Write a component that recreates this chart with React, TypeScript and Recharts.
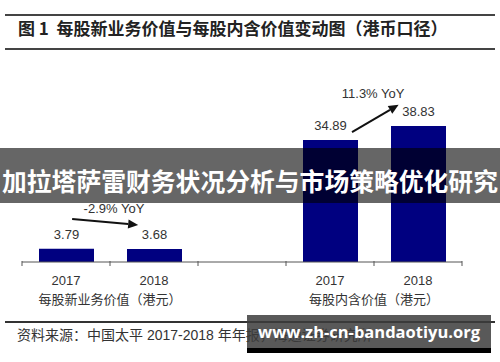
import { Bar, BarChart, LabelList, ReferenceDot, ReferenceLine, XAxis, YAxis } from 'recharts'

const categories = ['2017', '2018', '', '2017', '2018']
const values = [3.79, 3.68, null, 34.89, 38.83]
const groupLabels = ['每股新业务价值（港元）', '每股内含价值（港元）']
const groupTicks = [1, 4]
const yoyLabels = ['-2.9% YoY', '11.3% YoY']
// arrow ends and label spots, in data units (x: slot, y: value)
const arrowFrom = [[0.57, 12.3], [3.75, 37.1]]
const arrowTo = [[1.32, 10.6], [4.28, 44.9]]
const yoyAt = [[1.045, 15.4], [3.99, 48.2]]

const data = categories.map((label, i) => ({ x: i + 0.5, label, value: values[i] }))
const tickValues = categories.flatMap((_, i) => [i, i + 0.5]).concat(categories.length)

const numFont = '"Liberation Sans", Arial, "Noto Sans CJK SC", sans-serif'
const cjkFont = '"Noto Sans CJK SC", "Liberation Sans", sans-serif'

function AxisTick(props: any) {
    const { x, y, payload } = props
    const v = payload.value as number
    if (Number.isInteger(v)) {
        const g = groupTicks.indexOf(v)
        return (
            <g>
                <line x1={x} x2={x} y1={y - 1} y2={y + 4} stroke="#555" strokeWidth={1} />
                {g >= 0 && (
                    <text x={x} y={y + 42} textAnchor="middle" fontSize={13} fill="#333" fontFamily={cjkFont}>
                        {groupLabels[g]}
                    </text>
                )}
            </g>
        )
    }
    const label = categories[Math.floor(v)]
    return (
        <text x={x} y={y + 23} textAnchor="middle" fontSize={13} fill="#333" fontFamily={numFont}>
            {label}
        </text>
    )
}

function Arrow(props: any) {
    const { x1, y1, x2, y2 } = props
    const dx = x2 - x1
    const dy = y2 - y1
    const len = Math.sqrt(dx * dx + dy * dy)
    const ux = dx / len
    const uy = dy / len
    const head = 10
    const half = 4.5
    const bx = x2 - ux * head
    const by = y2 - uy * head
    return (
        <g>
            <line x1={x1} y1={y1} x2={bx} y2={by} stroke="#111" strokeWidth={2} />
            <polygon
                points={`${x2},${y2} ${bx - uy * half},${by + ux * half} ${bx + uy * half},${by - ux * half}`}
                fill="#111"
            />
        </g>
    )
}

export default function App() {
    return (
        <div style={{ position: 'absolute', left: 0, top: 0, width: 500, height: 362, background: '#fff', overflow: 'hidden' }}>
            <div style={{ position: 'absolute', left: 5, top: 14, width: 490, height: 2, background: '#444' }} />
            <div
                style={{
                    position: 'absolute', left: 18, top: 18, height: 20, lineHeight: '20px',
                    fontSize: 17, fontWeight: 700, color: '#222', fontFamily: cjkFont, whiteSpace: 'nowrap',
                }}
            >
                图 1&nbsp; 每股新业务价值与每股内含价值变动图（港币口径）
            </div>
            <div style={{ position: 'absolute', left: 5, top: 48, width: 490, height: 2, background: '#444' }} />

            <div style={{ position: 'absolute', left: 0, top: 0 }}>
                <BarChart width={500} height={362} data={data} margin={{ top: 122, right: 38, bottom: 70, left: 22 }}>
                    <XAxis
                        dataKey="x"
                        type="number"
                        domain={[0, categories.length]}
                        ticks={tickValues}
                        interval={0}
                        tickSize={0}
                        tickMargin={0}
                        tickLine={false}
                        axisLine={{ stroke: '#555', strokeWidth: 1 }}
                        tick={<AxisTick />}
                        height={30}
                    />
                    <YAxis hide domain={[0, 40]} />
                    <Bar dataKey="value" fill="#000080" barSize={55} isAnimationActive={false}>
                        <LabelList dataKey="value" position="top" offset={10} fontSize={13} fill="#333" fontFamily={numFont} />
                    </Bar>
                    {yoyLabels.map((_, i) => (
                        <ReferenceLine
                            key={`arrow-${i}`}
                            segment={[
                                { x: arrowFrom[i][0], y: arrowFrom[i][1] },
                                { x: arrowTo[i][0], y: arrowTo[i][1] },
                            ]}
                            ifOverflow="visible"
                            shape={Arrow}
                        />
                    ))}
                    {yoyLabels.map((text, i) => (
                        <ReferenceDot
                            key={`yoy-${i}`}
                            x={yoyAt[i][0]}
                            y={yoyAt[i][1]}
                            r={0}
                            fill="none"
                            stroke="none"
                            ifOverflow="visible"
                            label={{ value: text, position: 'center', fontSize: 13, fill: '#333', fontFamily: numFont }}
                        />
                    ))}
                </BarChart>
            </div>

            <div style={{ position: 'absolute', left: 5, top: 321, width: 490, height: 1.5, background: '#333' }} />
            <div
                style={{
                    position: 'absolute', left: 17, top: 326, height: 18, lineHeight: '18px',
                    fontSize: 14, color: '#333', fontFamily: numFont, whiteSpace: 'nowrap',
                }}
            >
                资料来源：中国太平 2017-2018 年年报，海通证券研究所
            </div>

            <div
                style={{
                    position: 'absolute', left: 0, top: 148, width: 500, height: 55,
                    background: 'rgba(0,0,0,0.6)', display: 'flex', alignItems: 'center', justifyContent: 'center',
                }}
            >
                <span
                    style={{
                        color: '#fff', fontSize: 24.8, fontWeight: 700, fontFamily: cjkFont,
                        whiteSpace: 'nowrap', position: 'relative', top: 4,
                    }}
                >
                    加拉塔萨雷财务状况分析与市场策略优化研究
                </span>
            </div>

            <div
                style={{
                    position: 'absolute', left: 247, top: 315, width: 244, height: 33,
                    background: 'rgba(60,60,60,0.85)', display: 'flex', alignItems: 'center', justifyContent: 'center',
                }}
            >
                <span style={{ color: '#fff', fontSize: 16.5, fontWeight: 700, fontFamily: '"Open Sans", sans-serif', whiteSpace: 'nowrap' }}>
                    www.zh-cn-bandaotiyu.org
                </span>
            </div>
            <div style={{ position: 'absolute', left: 247, top: 348, width: 244, height: 5, background: '#000' }} />
        </div>
    )
}
